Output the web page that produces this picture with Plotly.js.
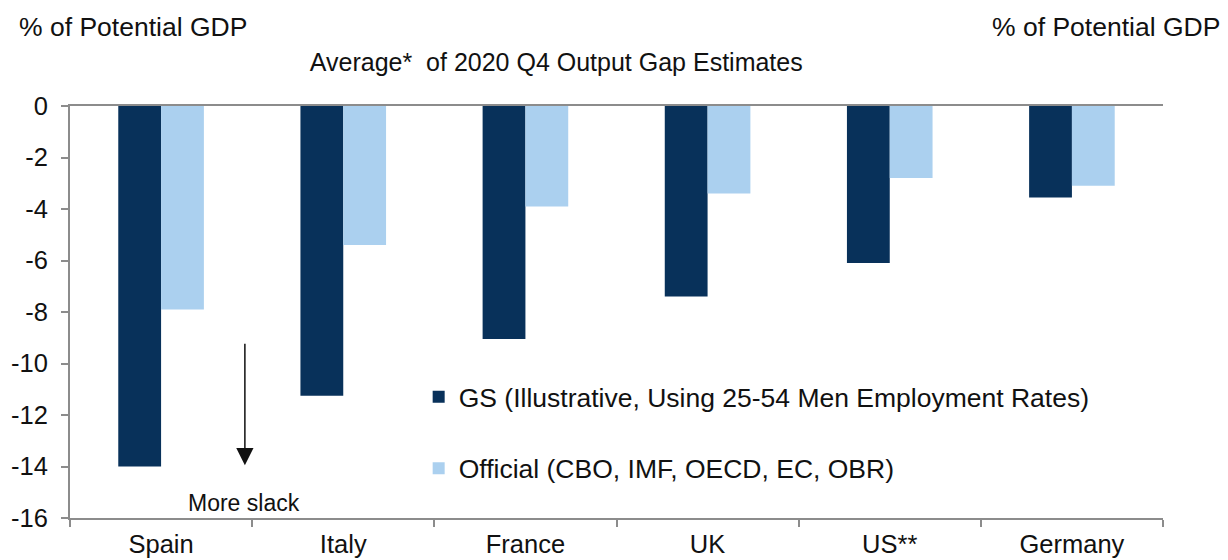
<!DOCTYPE html>
<html>
<head>
<meta charset="utf-8">
<script src="https://cdn.plot.ly/plotly-3.0.1.min.js"></script>
<style>html,body{margin:0;padding:0;background:#fff;}#chart{width:1228px;height:560px;}</style>
</head>
<body>
<div id="chart"></div>
<script>
var categories = ["Spain", "Italy", "France", "UK", "US**", "Germany"];
var gsValues = [-14.0, -11.25, -9.05, -7.4, -6.1, -3.55];
var officialValues = [-7.9, -5.4, -3.9, -3.4, -2.8, -3.1];
var yTicks = [0, -2, -4, -6, -8, -10, -12, -14, -16];
var seriesNames = ["GS (Illustrative, Using 25-54 Men Employment Rates)", "Official (CBO, IMF, OECD, EC, OBR)"];

var FONT = "Liberation Sans, Arial, sans-serif";
var TXT = "#111111";
var AX = "#8c8c8c";

var traces = [
  {type: "bar", x: categories, y: gsValues, name: seriesNames[0], legendgroup: "a",
   marker: {color: "#08315a", line: {width: 0}}, hoverinfo: "y"},
  {type: "bar", x: categories, y: officialValues, name: seriesNames[1], legendgroup: "b",
   marker: {color: "#abd0ef", line: {width: 0}}, hoverinfo: "y"}
];

var yaxisCommon = {
  range: [-16, 0], tickvals: yTicks, ticktext: yTicks.map(String),
  ticks: "outside", ticklen: 7, tickwidth: 2, tickcolor: AX,
  showline: true, linecolor: AX, linewidth: 2,
  showgrid: false, zeroline: false,
  tickfont: {family: FONT, size: 25.5, color: TXT}, fixedrange: true
};

var layout = {
  width: 1228, height: 560,
  margin: {l: 70, r: 65, t: 106, b: 42},
  paper_bgcolor: "#ffffff", plot_bgcolor: "#ffffff",
  barmode: "group", bargap: 0.53, bargroupgap: 0,
  font: {family: FONT, color: TXT},
  title: {text: "Average*  of 2020 Q4 Output Gap Estimates", font: {family: FONT, size: 25, color: TXT},
          x: 0.453, xref: "container", xanchor: "center", y: 0.889, yref: "container", yanchor: "middle"},
  xaxis: {
    type: "category", tickson: "boundaries", ticks: "outside", ticklen: 7, tickwidth: 2, tickcolor: AX,
    showline: true, linecolor: AX, linewidth: 2, mirror: true, ticklabelstandoff: 2,
    tickfont: {family: FONT, size: 25.5, color: TXT}, showgrid: false, fixedrange: true
  },
  yaxis: Object.assign({}, yaxisCommon, {side: "left", ticklabelstandoff: 8}),
  yaxis2: Object.assign({}, yaxisCommon, {side: "right", overlaying: "y", anchor: "x", ticklabelstandoff: 14}),
  showlegend: true,
  legend: {x: 0.319, xanchor: "left", y: 0.352, yanchor: "top", traceorder: "grouped", tracegroupgap: 34,
           font: {family: FONT, size: 26.5, color: TXT}, bgcolor: "rgba(0,0,0,0)", borderwidth: 0},
  annotations: [
    {text: "% of Potential GDP", xref: "paper", yref: "paper", x: -0.0485, y: 1.192, xanchor: "left", yanchor: "middle",
     showarrow: false, font: {family: FONT, size: 26.5, color: TXT}},
    {text: "% of Potential GDP", xref: "paper", yref: "paper", x: 1.054, y: 1.192, xanchor: "right", yanchor: "middle",
     showarrow: false, font: {family: FONT, size: 26.5, color: TXT}},
    {text: "", xref: "paper", yref: "y", x: 0.16, y: -13.95, ax: 0, ay: -123, showarrow: true,
     arrowhead: 2, arrowsize: 2.3, arrowwidth: 1.5, arrowcolor: "#111111", standoff: 0},
    {text: "More slack", xref: "paper", yref: "y", x: 0.159, y: -15.4, xanchor: "center", yanchor: "middle",
     showarrow: false, font: {family: FONT, size: 23, color: TXT}}
  ]
};

Plotly.newPlot("chart", traces, layout, {staticPlot: true, displayModeBar: false});
</script>
</body>
</html>
